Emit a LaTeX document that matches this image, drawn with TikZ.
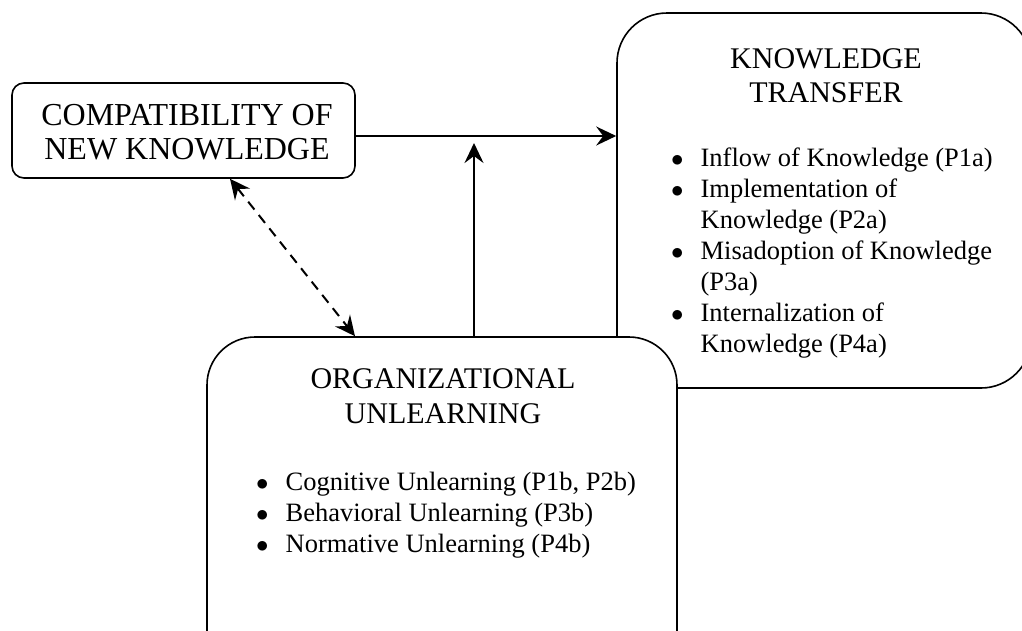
\documentclass[tikz,border=0pt]{standalone}
\usepackage{fontspec}
\setmainfont{Liberation Serif}
\usetikzlibrary{arrows.meta}
\newcommand{\topicbox}[6]{\node[box, rounded corners=#6, minimum width=#4, minimum height=#5] (#1) at ( #2 , #3 ) {};}
\newcommand{\bul}{$\bullet$}

\begin{document}
\begin{tikzpicture}[x=1pt, y=-1pt,
    box/.style={draw, line width=1.6pt, fill=white, inner sep=0pt},
    title/.style={font=\fontsize{30}{35}\selectfont, anchor=base, inner sep=0pt},
    items/.style={font=\fontsize{26.5}{31}\selectfont, anchor=base west, inner sep=0pt},
    tip/.style={Stealth[length=20pt, width=19pt, inset=7pt]},
    link/.style={line width=2pt, -{Stealth[length=20pt, width=19pt, inset=7pt]}}]
        \useasboundingbox (0,0) rectangle (1022,630);
        % boxes
        \topicbox{compat}{183.5}{130.5}{343pt}{95pt}{12pt}
        \topicbox{transfer}{824}{200.5}{414pt}{375pt}{50pt}
        \topicbox{unlearn}{442}{518.5}{470pt}{363pt}{48pt}
        % label for compat
        \node[title, font=\fontsize{32}{34}\selectfont] (compattitle) at (187,125)
            {\begin{tabular}[t]{@{}c@{}}COMPATIBILITY OF\\NEW KNOWLEDGE\end{tabular}};
        % label for transfer
        \node[title, font=\fontsize{30}{34}\selectfont] (transfertitle) at (826,68)
            {\begin{tabular}[t]{@{}c@{}}KNOWLEDGE\\TRANSFER\end{tabular}};
        \node[items] (transferlist) at (671,166)
            {\begin{tabular}[t]{@{}l@{\hspace{17pt}}l@{}}
            \bul & Inflow of Knowledge (P1a)\\
            \bul & Implementation of\\
                 & Knowledge (P2a)\\
            \bul & Misadoption of Knowledge\\
                 & (P3a)\\
            \bul & Internalization of\\
                 & Knowledge (P4a)
            \end{tabular}};
        % label for unlearn
        \node[title] (unlearntitle) at (443,388)
            {\begin{tabular}[t]{@{}c@{}}ORGANIZATIONAL\\UNLEARNING\end{tabular}};
        \node[items] (unlearnlist) at (256,490)
            {\begin{tabular}[t]{@{}l@{\hspace{17pt}}l@{}}
            \bul & Cognitive Unlearning (P1b, P2b)\\
            \bul & Behavioral Unlearning (P3b)\\
            \bul & Normative Unlearning (P4b)
            \end{tabular}};
        % arrows
        \coordinate (meet) at (474,136);
        \draw[link] (compat.east |- meet) -- (transfer.west |- meet);
        \draw[link, shorten >=7pt] (unlearn.north -| meet) -- (meet);
        \draw[line width=2pt, dash pattern=on 10pt off 7pt, {Stealth[length=20pt, width=19pt, inset=7pt]}-{Stealth[length=20pt, width=19pt, inset=7pt]}]
              (compat.south -| 230,0) -- (unlearn.north -| 355,0);
\end{tikzpicture}
\end{document}
